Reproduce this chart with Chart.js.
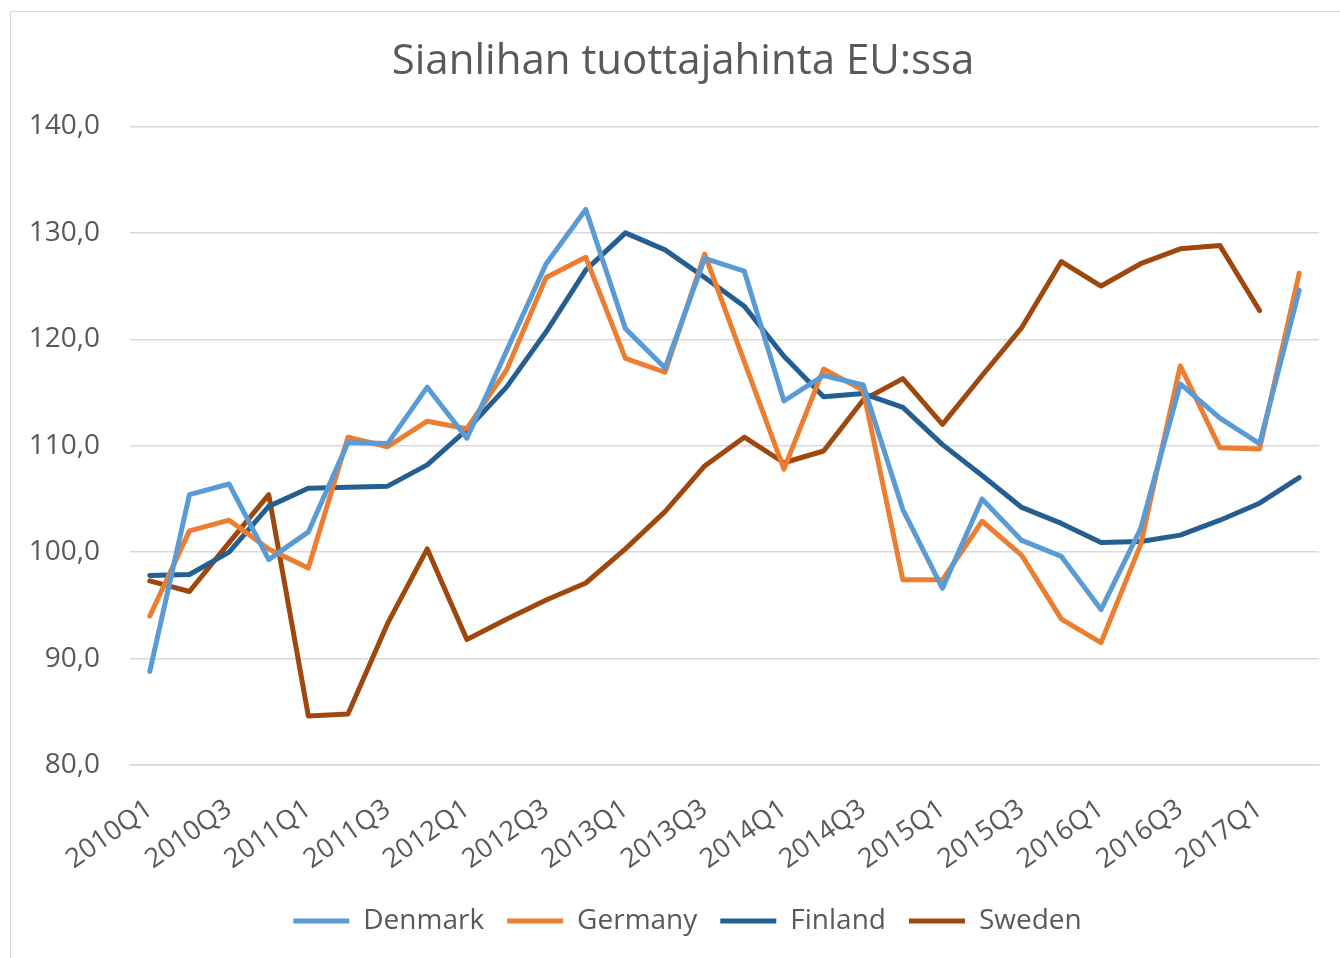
<!DOCTYPE html>
<html>
<head>
<meta charset="utf-8">
<script src="https://cdn.jsdelivr.net/npm/chart.js@4.4.1/dist/chart.umd.min.js"></script>
<style>
  html, body { margin: 0; padding: 0; background: #fff; overflow: hidden; }
  #frame { position: absolute; left: 10px; top: 11px; width: 1400px; height: 1000px; border: 1.5px solid #D9D9D9; }
  #wrap { position: absolute; left: 0; top: 0; width: 1340px; height: 958px; }
</style>
</head>
<body>
<div id="frame"></div>
<div id="wrap"><canvas id="c" width="1340" height="958"></canvas></div>
<script>
const categories = ["2010Q1","2010Q2","2010Q3","2010Q4","2011Q1","2011Q2","2011Q3","2011Q4",
  "2012Q1","2012Q2","2012Q3","2012Q4","2013Q1","2013Q2","2013Q3","2013Q4",
  "2014Q1","2014Q2","2014Q3","2014Q4","2015Q1","2015Q2","2015Q3","2015Q4",
  "2016Q1","2016Q2","2016Q3","2016Q4","2017Q1","2017Q2"];
const denmark = [88.8,105.4,106.4,99.3,101.9,110.3,110.2,115.5,110.7,118.9,127.1,132.2,121.0,117.3,127.6,126.4,114.2,116.6,115.7,104.0,96.6,105.0,101.1,99.6,94.6,102.2,115.8,112.6,110.2,124.6];
const germany = [94.0,102.0,103.0,100.3,98.5,110.8,109.9,112.3,111.6,117.1,125.8,127.7,118.2,116.9,128.0,117.9,107.8,117.2,115.2,97.4,97.4,102.9,99.7,93.7,91.5,100.7,117.5,109.8,109.7,126.2];
const finland = [97.8,97.9,100.0,104.3,106.0,106.1,106.2,108.2,111.5,115.5,120.7,126.5,130.0,128.4,125.8,123.1,118.4,114.6,114.9,113.6,110.1,107.2,104.2,102.7,100.9,101.0,101.6,103.0,104.6,107.0];
const sweden = [97.3,96.3,100.9,105.4,84.6,84.8,93.3,100.3,91.8,93.7,95.5,97.1,100.3,103.8,108.1,110.8,108.4,109.5,114.3,116.3,112.0,116.6,121.1,127.3,125.0,127.1,128.5,128.8,122.7,null];
const seriesNames = ["Denmark","Germany","Finland","Sweden"];
const yTicks = [80,90,100,110,120,130,140];
const titleText = "Sianlihan tuottajahinta EU:ssa";

const colors = ["#5B9BD5","#ED7D31","#255E91","#9E480E"];
const FONT = "'Open Sans', 'Noto Sans', sans-serif";
const TXT = "#595959";

function ds(label, data, color) {
  return {
    label, data,
    borderColor: color, backgroundColor: color,
    borderWidth: 5, pointRadius: 0, pointHoverRadius: 0,
    borderCapStyle: 'round', borderJoinStyle: 'round',
    tension: 0, spanGaps: false, fill: false
  };
}

// The original chart frame is wider than the visible picture: centre title and legend on it.
const recenter = {
  id: 'recenter',
  afterLayout(chart) {
    if (chart.titleBlock) { chart.titleBlock.left = 0; chart.titleBlock.right = 1366; }
    if (chart.legend) { chart.legend.left = 0; chart.legend.right = 1375; }
  }
};

new Chart(document.getElementById('c'), {
  type: 'line',
  data: {
    labels: categories,
    datasets: [
      ds(seriesNames[0], denmark, colors[0]),
      ds(seriesNames[1], germany, colors[1]),
      ds(seriesNames[2], finland, colors[2]),
      ds(seriesNames[3], sweden, colors[3])
    ]
  },
  plugins: [recenter],
  options: {
    responsive: false,
    animation: false,
    devicePixelRatio: 1,
    layout: { padding: { left: 0, right: 21, top: 0, bottom: 13 } },
    plugins: {
      title: {
        display: true, text: titleText, color: TXT,
        font: { family: FONT, size: 42, weight: 'normal' },
        padding: { top: 37, bottom: 39 }
      },
      legend: {
        position: 'bottom',
        labels: {
          color: TXT, font: { family: FONT, size: 28 },
          usePointStyle: true, pointStyle: 'line', pointStyleWidth: 56,
          padding: 23
        }
      },
      tooltip: { enabled: false }
    },
    scales: {
      x: {
        offset: true,
        grid: { display: false, drawTicks: false },
        border: { display: true, color: '#D9D9D9', width: 1.5 },
        ticks: {
          autoSkip: false, minRotation: 35, maxRotation: 35,
          color: TXT, font: { family: FONT, size: 27 }, padding: 28,
          callback: function(v, i) { return i % 2 === 0 ? categories[i] : ''; }
        },
        afterFit: function(s) { s.height = 119; s.paddingLeft = 0; s.paddingRight = 0; }
      },
      y: {
        min: yTicks[0], max: yTicks[yTicks.length - 1],
        afterBuildTicks: function(s) { s.ticks = yTicks.map(v => ({ value: v })); },
        grid: { color: '#D9D9D9', lineWidth: 1.5, drawTicks: false },
        border: { display: false },
        ticks: {
          color: TXT, font: { family: FONT, size: 28 }, padding: 30,
          callback: function(v) { return v.toFixed(1).replace('.', ','); }
        },
        afterFit: function(s) { s.width = 130; }
      }
    }
  }
});
</script>
</body>
</html>
